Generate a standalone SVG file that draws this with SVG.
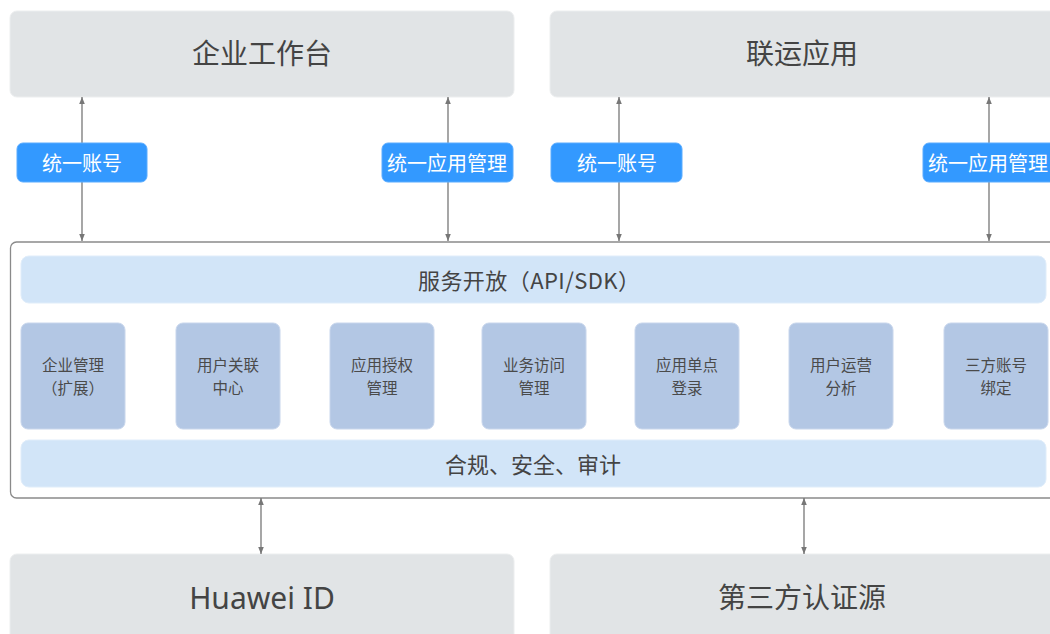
<svg xmlns="http://www.w3.org/2000/svg" width="1050" height="634" viewBox="0 0 1050 634">
<defs>
<marker id="ah" viewBox="0 0 10 10" refX="10" refY="5" markerWidth="7" markerHeight="7" markerUnits="userSpaceOnUse" orient="auto-start-reverse">
<path d="M0,1 L10,5 L0,9 z" fill="#777"/>
</marker>
<style>
.sys{fill:#e1e4e6;stroke:#eceeef;stroke-width:1}
.sysT{font-family:"Noto Sans","Noto Sans CJK SC",sans-serif;font-size:28px;fill:#444;text-anchor:middle;dominant-baseline:central}
.tag{fill:#3399ff;stroke:#5aacff;stroke-width:1}
.tagT{font-family:"Noto Sans CJK SC",sans-serif;font-size:20px;fill:#fff;text-anchor:middle;dominant-baseline:central}
.bar{fill:#d2e5f8;stroke:#e0edfa;stroke-width:1}
.barT{font-family:"Noto Sans CJK SC",sans-serif;font-size:22px;fill:#444;text-anchor:middle;dominant-baseline:central}
.mod{fill:#b3c7e4;stroke:#c8d6ec;stroke-width:1}
.modT{font-family:"Noto Sans CJK SC",sans-serif;font-size:15.5px;fill:#4a4a4a;text-anchor:middle;dominant-baseline:central}
.conn{stroke:#777;stroke-width:1.3;fill:none;marker-start:url(#ah);marker-end:url(#ah)}
</style>
</defs>
<rect width="1050" height="634" fill="#fff"/>

<g id="workbench"><rect class="sys" x="10" y="11" width="504" height="86" rx="7"/><text class="sysT" x="262" y="53">企业工作台</text></g>
<g id="joint-apps"><rect class="sys" x="550" y="11" width="510" height="86" rx="7"/><text class="sysT" x="802" y="53">联运应用</text></g>

<g id="platform"><rect x="10.5" y="242" width="1060" height="256" rx="6" fill="#fff" stroke="#8a8a8a" stroke-width="1.3"/></g>
<g id="service-open"><rect class="bar" x="21" y="256" width="1025" height="47" rx="8"/><text class="barT" x="529" y="279" textLength="222" lengthAdjust="spacing">服务开放（API/SDK）</text></g>

<g id="m1"><rect class="mod" x="21" y="323" width="104" height="106" rx="7"/><text class="modT" x="73" y="364">企业管理</text><text class="modT" x="73" y="387">（扩展）</text></g>
<g id="m2"><rect class="mod" x="176" y="323" width="104" height="106" rx="7"/><text class="modT" x="228" y="364">用户关联</text><text class="modT" x="228" y="387">中心</text></g>
<g id="m3"><rect class="mod" x="330" y="323" width="104" height="106" rx="7"/><text class="modT" x="382" y="364">应用授权</text><text class="modT" x="382" y="387">管理</text></g>
<g id="m4"><rect class="mod" x="482" y="323" width="104" height="106" rx="7"/><text class="modT" x="534" y="364">业务访问</text><text class="modT" x="534" y="387">管理</text></g>
<g id="m5"><rect class="mod" x="635" y="323" width="104" height="106" rx="7"/><text class="modT" x="687" y="364">应用单点</text><text class="modT" x="687" y="387">登录</text></g>
<g id="m6"><rect class="mod" x="789" y="323" width="104" height="106" rx="7"/><text class="modT" x="841" y="364">用户运营</text><text class="modT" x="841" y="387">分析</text></g>
<g id="m7"><rect class="mod" x="944" y="323" width="104" height="106" rx="7"/><text class="modT" x="996" y="364">三方账号</text><text class="modT" x="996" y="387">绑定</text></g>

<g id="compliance"><rect class="bar" x="21" y="440" width="1025" height="47" rx="8"/><text class="barT" x="533" y="463">合规、安全、审计</text></g>

<g id="huawei-id"><rect class="sys" x="10" y="554" width="504" height="100" rx="7"/><text class="sysT" x="262" y="597" style="font-size:30px">Huawei ID</text></g>
<g id="third-auth"><rect class="sys" x="550" y="554" width="510" height="100" rx="7"/><text class="sysT" x="802" y="597">第三方认证源</text></g>

<g id="connectors">
<line class="conn" x1="82" y1="97" x2="82" y2="241"/>
<line class="conn" x1="448" y1="97" x2="448" y2="241"/>
<line class="conn" x1="619" y1="97" x2="619" y2="241"/>
<line class="conn" x1="989" y1="97" x2="989" y2="241"/>
<line class="conn" x1="261" y1="498" x2="261" y2="554"/>
<line class="conn" x1="804" y1="498" x2="804" y2="554"/>
</g>

<g id="tag1"><rect class="tag" x="17" y="143" width="130" height="39" rx="6"/><text class="tagT" x="82" y="162">统一账号</text></g>
<g id="tag2"><rect class="tag" x="382" y="143" width="131" height="39" rx="6"/><text class="tagT" x="447" y="162">统一应用管理</text></g>
<g id="tag3"><rect class="tag" x="551" y="143" width="131" height="39" rx="6"/><text class="tagT" x="617" y="162">统一账号</text></g>
<g id="tag4"><rect class="tag" x="923" y="143" width="140" height="39" rx="6"/><text class="tagT" x="988" y="162">统一应用管理</text></g>
</svg>
